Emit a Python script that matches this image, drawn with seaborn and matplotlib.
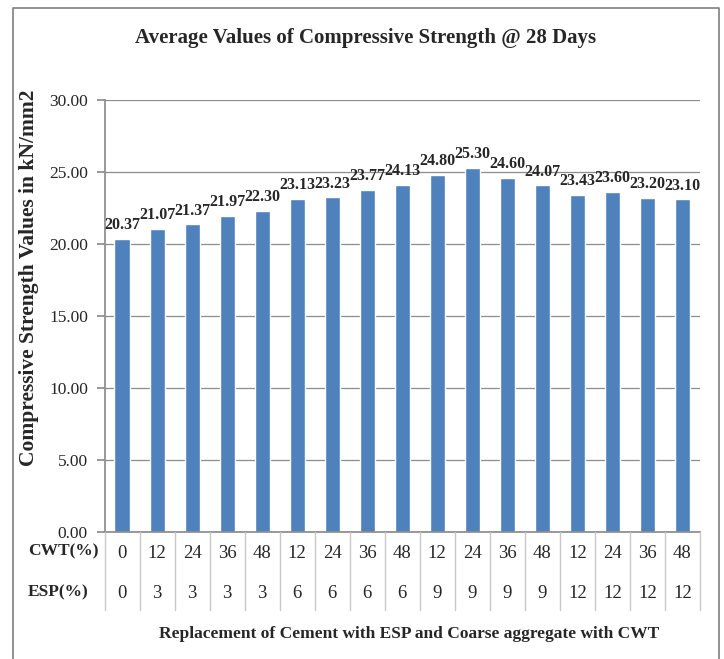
import matplotlib
matplotlib.use("Agg")
import matplotlib.pyplot as plt
import seaborn as sns
import pandas as pd
from matplotlib.lines import Line2D

cwt = ["0", "12", "24", "36", "48", "12", "24", "36", "48", "12", "24", "36", "48", "12", "24", "36", "48"]
esp = ["0", "3", "3", "3", "3", "6", "6", "6", "6", "9", "9", "9", "9", "12", "12", "12", "12"]
strength = [20.37, 21.07, 21.37, 21.97, 22.30, 23.13, 23.23, 23.77, 24.13, 24.80, 25.30, 24.60, 24.07, 23.43, 23.60, 23.20, 23.10]
yticks = [0, 5, 10, 15, 20, 25, 30]

title = "Average Values of Compressive Strength @ 28 Days"
ylabel = "Compressive Strength Values in kN/mm2"
xlabel = "Replacement of Cement with ESP and Coarse aggregate with CWT"

sns.set_theme(style="white")
plt.rcParams["font.family"] = ["Liberation Serif", "DejaVu Serif"]

W, H = 724, 659
fig = plt.figure(figsize=(W / 100, H / 100), dpi=100)
L, R, T, B = 104.5, 700, 100, 532
ax = fig.add_axes([L / W, 1 - B / H, (R - L) / W, (B - T) / H])

df = pd.DataFrame({"idx": list(range(len(strength))), "val": strength})
sns.barplot(data=df, x="idx", y="val", color="#4F81BD", saturation=1, width=0.43, ax=ax)

ax.set_xlim(-0.5, len(strength) - 0.5)
ax.set_ylim(0, 30)
ax.set_yticks(yticks)
ax.set_yticklabels([f"{v:.2f}" for v in yticks], fontsize=12.5)
ax.set_xticks([])
ax.set_xlabel("")
ax.set_ylabel("")
ax.yaxis.grid(True, color="#8c8c8c", linewidth=0.9)
ax.set_axisbelow(True)
ax.tick_params(axis="y", which="both", left=True, length=6, color="#8c8c8c", pad=6)
for s in ["top", "right"]:
    ax.spines[s].set_visible(False)
ax.spines["left"].set_color("#8c8c8c")
ax.spines["bottom"].set_color("#8c8c8c")

for i, v in enumerate(strength):
    ax.text(i, v + 0.4, f"{v:.2f}", ha="center", va="bottom", fontsize=11.5, fontweight="bold")

def fx(px):
    return px / W

def fy(py):
    return 1 - py / H

cell = (R - L) / len(strength)
for k in range(len(strength) + 1):
    x = L + k * cell
    fig.add_artist(Line2D([fx(x), fx(x)], [fy(B), fy(610)], color="#c8c8c8", linewidth=1.0))
for i in range(len(strength)):
    xc = L + (i + 0.5) * cell
    fig.text(fx(xc), fy(553), cwt[i], ha="center", va="center", fontsize=13.5)
    fig.text(fx(xc), fy(593), esp[i], ha="center", va="center", fontsize=13.5)
fig.text(fx(28), fy(551), "CWT(%)", ha="left", va="center", fontsize=12.5, fontweight="bold")
fig.text(fx(28), fy(592), "ESP(%)", ha="left", va="center", fontsize=12.5, fontweight="bold")

fig.text(fx(366), fy(38), title, ha="center", va="center", fontsize=15, fontweight="bold")
fig.text(fx(29), fy(278), ylabel, ha="center", va="center", rotation=90, fontsize=15.5, fontweight="bold")
fig.text(fx(409), fy(634), xlabel, ha="center", va="center", fontsize=12.5, fontweight="bold")

fig.add_artist(Line2D([fx(13), fx(13), fx(719), fx(719)], [fy(H + 5), fy(8), fy(8), fy(H + 5)],
                      color="#7f7f7f", linewidth=1.2))

fig.savefig("out.png", dpi=100)
